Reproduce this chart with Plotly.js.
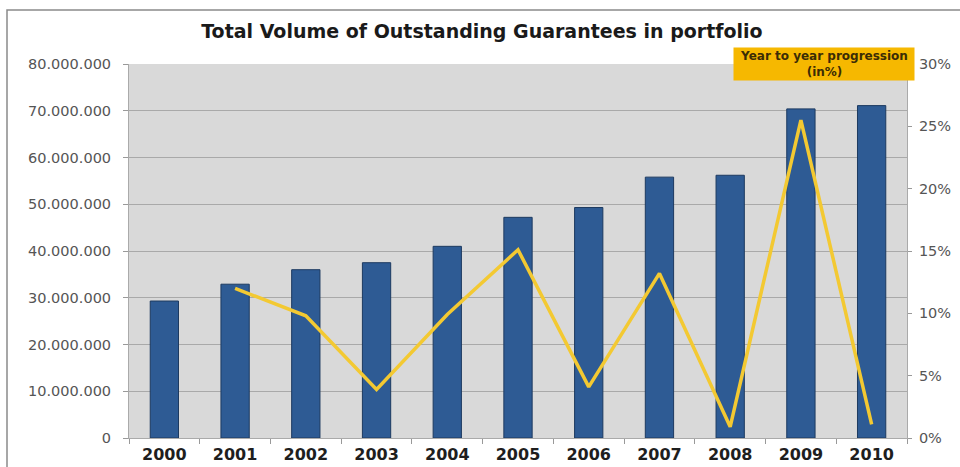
<!DOCTYPE html>
<html>
<head>
<meta charset="utf-8">
<script src="https://cdn.plot.ly/plotly-3.0.1.min.js"></script>
<style>html,body{margin:0;padding:0;background:#fff;}#chart{width:960px;height:467px;}</style>
</head>
<body>
<div id="chart"></div>
<script>
const years = ['2000','2001','2002','2003','2004','2005','2006','2007','2008','2009','2010'];
const volume = [29300000, 32900000, 36000000, 37500000, 41000000, 47200000, 49300000, 55800000, 56200000, 70400000, 71100000];
const progYears = ['2001','2002','2003','2004','2005','2006','2007','2008','2009','2010'];
const progression = [12.0, 9.8, 3.9, 9.9, 15.1, 4.1, 13.2, 0.9, 25.5, 1.1];
const leftTicks = [0, 10000000, 20000000, 30000000, 40000000, 50000000, 60000000, 70000000, 80000000];
const rightTicks = [0, 5, 10, 15, 20, 25, 30];
const rightTickLabels = ['0%', '5%', '10%', '15%', '20%', '25%', '30%'];

const L = 129, R = 907, T = 64, B = 438, W = 960, H = 467;
const px = x => (x - L) / (R - L);
const py = y => (B - y) / (B - T);

const traces = [
  {
    type: 'bar', x: years, y: volume, width: 0.4,
    marker: {color: '#2e5b94', line: {color: '#1d3a60', width: 1}},
    hoverinfo: 'skip', showlegend: false
  },
  {
    type: 'scatter', mode: 'lines', x: progYears, y: progression, yaxis: 'y2',
    line: {color: '#f3c932', width: 3.5},
    hoverinfo: 'skip', showlegend: false
  }
];

const layout = {
  width: W, height: H,
  margin: {l: L, r: W - R, t: T, b: H - B},
  paper_bgcolor: '#ffffff',
  plot_bgcolor: '#d9d9d9',
  separators: ',.',
  font: {family: 'DejaVu Sans, Verdana, sans-serif', color: '#555'},
  title: {
    text: '<b>Total Volume of Outstanding Guarantees in portfolio</b>',
    font: {size: 19, color: '#1a1a1a', family: 'DejaVu Sans, Verdana, sans-serif'},
    x: 0.502, xanchor: 'center', y: 1 - 31 / H, yanchor: 'middle'
  },
  xaxis: {
    type: 'category', categoryorder: 'array', categoryarray: years,
    tickson: 'boundaries', ticks: 'outside', ticklen: 5, tickcolor: '#999',
    showline: true, linecolor: '#aaa', linewidth: 1,
    tickfont: {size: 16, color: '#1e1e1e', family: 'DejaVu Sans, Verdana, sans-serif', weight: 'bold'},
    ticklabelstandoff: 2,
    showgrid: false, fixedrange: true
  },
  yaxis: {
    range: [0, 80000000], tickvals: leftTicks, tickformat: ',d',
    ticks: 'outside', ticklen: 5, tickcolor: '#999',
    showline: true, linecolor: '#aaa', linewidth: 1,
    gridcolor: '#a9a9a9', gridwidth: 1, zeroline: false,
    ticklabelstandoff: 9,
    tickfont: {size: 14.5, color: '#555'}, fixedrange: true
  },
  yaxis2: {
    overlaying: 'y', side: 'right', range: [0, 30], tickvals: rightTicks, ticktext: rightTickLabels,
    ticks: 'outside', ticklen: 4, tickcolor: '#999',
    showline: true, linecolor: '#aaa', linewidth: 1,
    showgrid: false, zeroline: false,
    ticklabelstandoff: 4,
    tickfont: {size: 14.5, color: '#555'}, fixedrange: true
  },
  annotations: [{
    xref: 'paper', yref: 'paper', x: px(824), y: py(63.5),
    xanchor: 'center', yanchor: 'middle', showarrow: false,
    text: '<b>Year to year progression<br>(in%)</b>',
    font: {size: 12, color: '#3b2c05', family: 'DejaVu Sans, Verdana, sans-serif'},
    align: 'center', bgcolor: '#f6b800', width: 178, height: 30, borderpad: 1
  }],
  shapes: [{
    type: 'rect', xref: 'paper', yref: 'paper', layer: 'below',
    x0: px(7), x1: px(975), y0: py(480), y1: py(10),
    line: {color: '#8a8a8a', width: 1.5}, fillcolor: 'rgba(0,0,0,0)'
  }]
};

Plotly.newPlot('chart', traces, layout, {displayModeBar: false, staticPlot: true});
</script>
</body>
</html>
